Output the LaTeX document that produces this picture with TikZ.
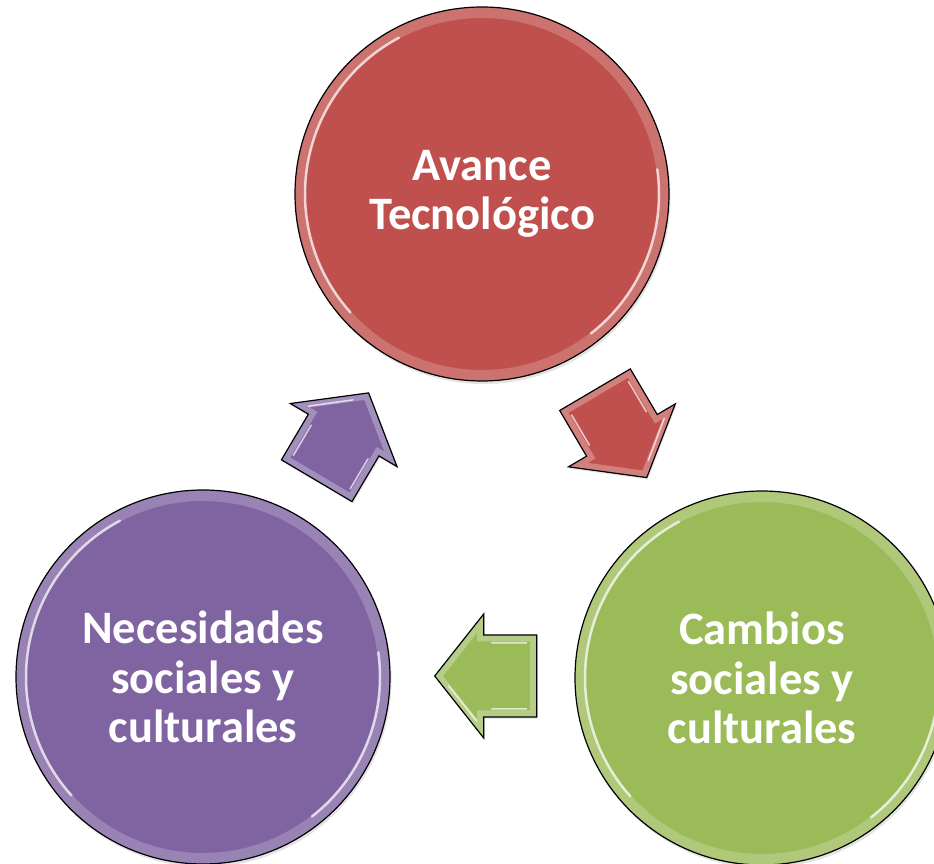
\documentclass[tikz,border=0pt]{standalone}
\usepackage{fontspec}
\setmainfont{Carlito}
\usetikzlibrary{shadows}
\definecolor{cRed}{HTML}{C0504D}
\definecolor{cGreen}{HTML}{9BBB59}
\definecolor{cPurple}{HTML}{8064A2}
\tikzset{
  arrcol/.store in=\arrcol, arrcol=cRed,
  ball/.style={circle, minimum size=374pt, inner sep=0pt, text=white,
    font=\fontsize{46.5}{49.5}\selectfont\bfseries, align=center,
    drop shadow={opacity=0.22, shadow xshift=1.5pt, shadow yshift=-3pt}},
  ring/.style={white, opacity=0.2, line width=22pt},
  glint/.style={white, opacity=0.7, line width=2.5pt, line cap=round},
  rim/.style={black, line width=1.2pt},
  blockarrow/.pic={
    \fill[fill=\arrcol, drop shadow={opacity=0.2, shadow xshift=1pt, shadow yshift=-2pt}]
      (0,41)--(53,41)--(53,62)--(102,0)--(53,-62)--(53,-41)--(0,-41)--cycle;
    \begin{scope}
      \clip (0,41)--(53,41)--(53,62)--(102,0)--(53,-62)--(53,-41)--(0,-41)--cycle;
      \draw[white, opacity=0.28, line width=13pt, line join=miter]
        (0,41)--(53,41)--(53,62)--(102,0)--(53,-62)--(53,-41)--(0,-41)--cycle;
      \draw[white, opacity=0.7, line width=1.5pt, line cap=round]
        (10,33)--(45,33) (60,45)--(88,10) (10,-33)--(45,-33);
    \end{scope}
    \draw[rim, line join=miter]
      (0,41)--(53,41)--(53,62)--(102,0)--(53,-62)--(53,-41)--(0,-41)--cycle;
  }
}
\newcommand\shine[1]{%
  \begin{scope}
    \clip (#1.center) circle[radius=187];
    \draw[ring] (#1.center) circle[radius=187];
  \end{scope}
  \draw[glint] ([shift={(118:177)}]#1.center) arc[start angle=118, end angle=222, radius=177];
  \draw[glint] ([shift={(8:177)}]#1.center) arc[start angle=8, end angle=-52, radius=177];
  \draw[rim] (#1.center) circle[radius=187];
}
\begin{document}
\begin{tikzpicture}[x=1pt,y=1pt]
  \useasboundingbox (0,0) rectangle (934,864);
  % circles
  \node[ball, fill=cRed] (avance) at (482,670) {Avance\\Tecnológico};
  \shine{avance}
  \node[ball, fill=cGreen] (cambios) at (762,186) {Cambios\\sociales y\\culturales};
  \shine{cambios}
  \node[ball, fill=cPurple] (necesidades) at (203,187) {Necesidades\\sociales y\\culturales};
  \shine{necesidades}
  % arrows
  \pic[rotate=-59.5, arrcol=cRed] (arrowA) at (595,474.3) {blockarrow};
  \pic[rotate=180, arrcol=cGreen] (arrowB) at (536.7,188) {blockarrow};
  \pic[rotate=59.4, arrcol=cPurple] (arrowC) at (316.7,383.3) {blockarrow};
\end{tikzpicture}
\end{document}
